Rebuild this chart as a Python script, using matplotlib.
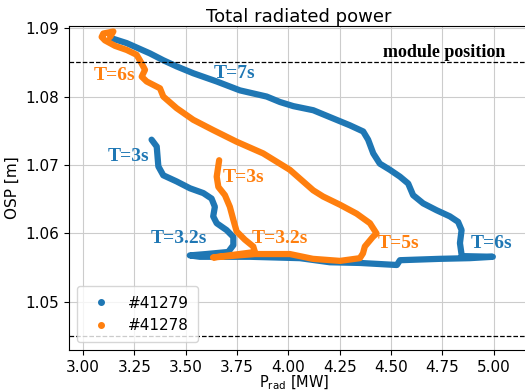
import matplotlib
matplotlib.use("Agg")
import matplotlib.pyplot as plt
from matplotlib.lines import Line2D

# shot #41279 (blue): T=3s -> 3.2s -> 6s -> 7s
p_41279 = [3.334, 3.359, 3.367, 3.391, 3.456, 3.521, 3.586, 3.626, 3.642, 3.634,
           3.651, 3.699, 3.732, 3.732, 3.707, 3.600, 3.520, 3.569, 3.813, 4.056,
           4.202, 4.348, 4.528, 4.543, 4.737, 4.883, 4.995, 4.844, 4.835, 4.843,
           4.826, 4.786, 4.721, 4.656, 4.607, 4.583, 4.543, 4.494, 4.445, 4.413,
           4.388, 4.364, 4.299, 4.218, 4.121, 4.024, 3.959, 3.894, 3.764, 3.651,
           3.537, 3.456, 3.391, 3.326, 3.213, 3.140]
osp_41279 = [1.0737, 1.0727, 1.0698, 1.0685, 1.0676, 1.0666, 1.0659, 1.0651, 1.0639, 1.0625,
             1.0615, 1.0605, 1.0595, 1.0583, 1.0573, 1.0570, 1.0568, 1.0566, 1.0566, 1.0564,
             1.0558, 1.0557, 1.0554, 1.0561, 1.0563, 1.0564, 1.0566, 1.0567, 1.0586, 1.0605,
             1.0617, 1.0625, 1.0634, 1.0644, 1.0656, 1.0673, 1.0683, 1.0693, 1.0702, 1.0717,
             1.0737, 1.0749, 1.0758, 1.0768, 1.0780, 1.0786, 1.0792, 1.0800, 1.0809, 1.0822,
             1.0834, 1.0844, 1.0853, 1.0863, 1.0878, 1.0885]

# shot #41278 (orange): T=3s -> 3.2s -> 5s -> 6s
p_41278 = [3.663, 3.651, 3.659, 3.691, 3.715, 3.732, 3.748, 3.788, 3.829, 3.837,
           3.633, 3.837, 4.007, 4.119, 4.251, 4.348, 4.363, 4.372, 4.411, 4.429,
           4.397, 4.332, 4.251, 4.169, 4.121, 4.007, 3.877, 3.748, 3.634, 3.537,
           3.456, 3.391, 3.375, 3.310, 3.286, 3.302, 3.277, 3.261, 3.213, 3.156,
           3.107, 3.091, 3.099, 3.148, 3.132]
osp_41278 = [1.0707, 1.0683, 1.0668, 1.0656, 1.0639, 1.0620, 1.0603, 1.0591, 1.0581, 1.0573,
             1.0565, 1.0570, 1.0570, 1.0563, 1.0560, 1.0564, 1.0571, 1.0581, 1.0595, 1.0600,
             1.0615, 1.0629, 1.0642, 1.0654, 1.0663, 1.0693, 1.0717, 1.0734, 1.0751, 1.0766,
             1.0783, 1.0800, 1.0812, 1.0822, 1.0829, 1.0839, 1.0853, 1.0861, 1.0868, 1.0874,
             1.0882, 1.0887, 1.0892, 1.0895, 1.0887]

module_top = 1.085
module_bottom = 1.045

labels_41279 = [("T=3s", 3.118, 1.0713), ("T=3.2s", 3.330, 1.0592),
                ("T=6s", 4.885, 1.0586), ("T=7s", 3.636, 1.0834)]
labels_41278 = [("T=3s", 3.678, 1.0682), ("T=3.2s", 3.822, 1.0593),
                ("T=5s", 4.437, 1.0585), ("T=6s", 3.050, 1.0831)]

blue = "#1f77b4"
orange = "#ff7f0e"

fig = plt.figure(figsize=(5.25, 3.91), dpi=100)
ax = fig.add_axes([0.1314, 0.1049, 0.875, 0.8286])

ax.plot(p_41279, osp_41279, color=blue, lw=4.5, solid_capstyle="round", solid_joinstyle="round")
ax.plot(p_41278, osp_41278, color=orange, lw=4.5, solid_capstyle="round", solid_joinstyle="round")

ax.axhline(module_top, color="black", ls="--", lw=0.9)
ax.axhline(module_bottom, color="black", ls="--", lw=0.9)

serif = dict(family="Liberation Serif", fontweight="bold", va="center", ha="left")
for txt, x, y in labels_41279:
    ax.text(x, y, txt, color=blue, fontsize=14, **serif)
for txt, x, y in labels_41278:
    ax.text(x, y, txt, color=orange, fontsize=14, **serif)
ax.text(4.460, 1.0865, "module position", color="black", fontsize=13, **serif)

ax.set_xlim(2.932, 5.168)
ax.set_ylim(1.04299, 1.0903)
ax.set_xticks([3.0, 3.25, 3.5, 3.75, 4.0, 4.25, 4.5, 4.75, 5.0])
ax.set_xticklabels(["3.00", "3.25", "3.50", "3.75", "4.00", "4.25", "4.50", "4.75", "5.00"])
ax.set_yticks([1.05, 1.06, 1.07, 1.08, 1.09])
ax.tick_params(labelsize=11)
ax.grid(True, color="#cccccc", lw=0.8)
ax.set_axisbelow(True)

ax.set_title("Total radiated power", fontsize=13, pad=3)
ax.set_xlabel("P$_{\\rm rad}$ [MW]", fontsize=10.5)
ax.xaxis.set_label_coords(0.49, -0.072)
ax.set_ylabel("OSP [m]", fontsize=11)

handles = [Line2D([], [], color=blue, marker="o", ls="none", markersize=4),
           Line2D([], [], color=orange, marker="o", ls="none", markersize=4)]
ax.legend(handles, ["#41279", "#41278"], loc="lower left", fontsize=11,
          handletextpad=0.75, borderpad=0.6, labelspacing=0.5)

fig.savefig("out.png", dpi=100)
